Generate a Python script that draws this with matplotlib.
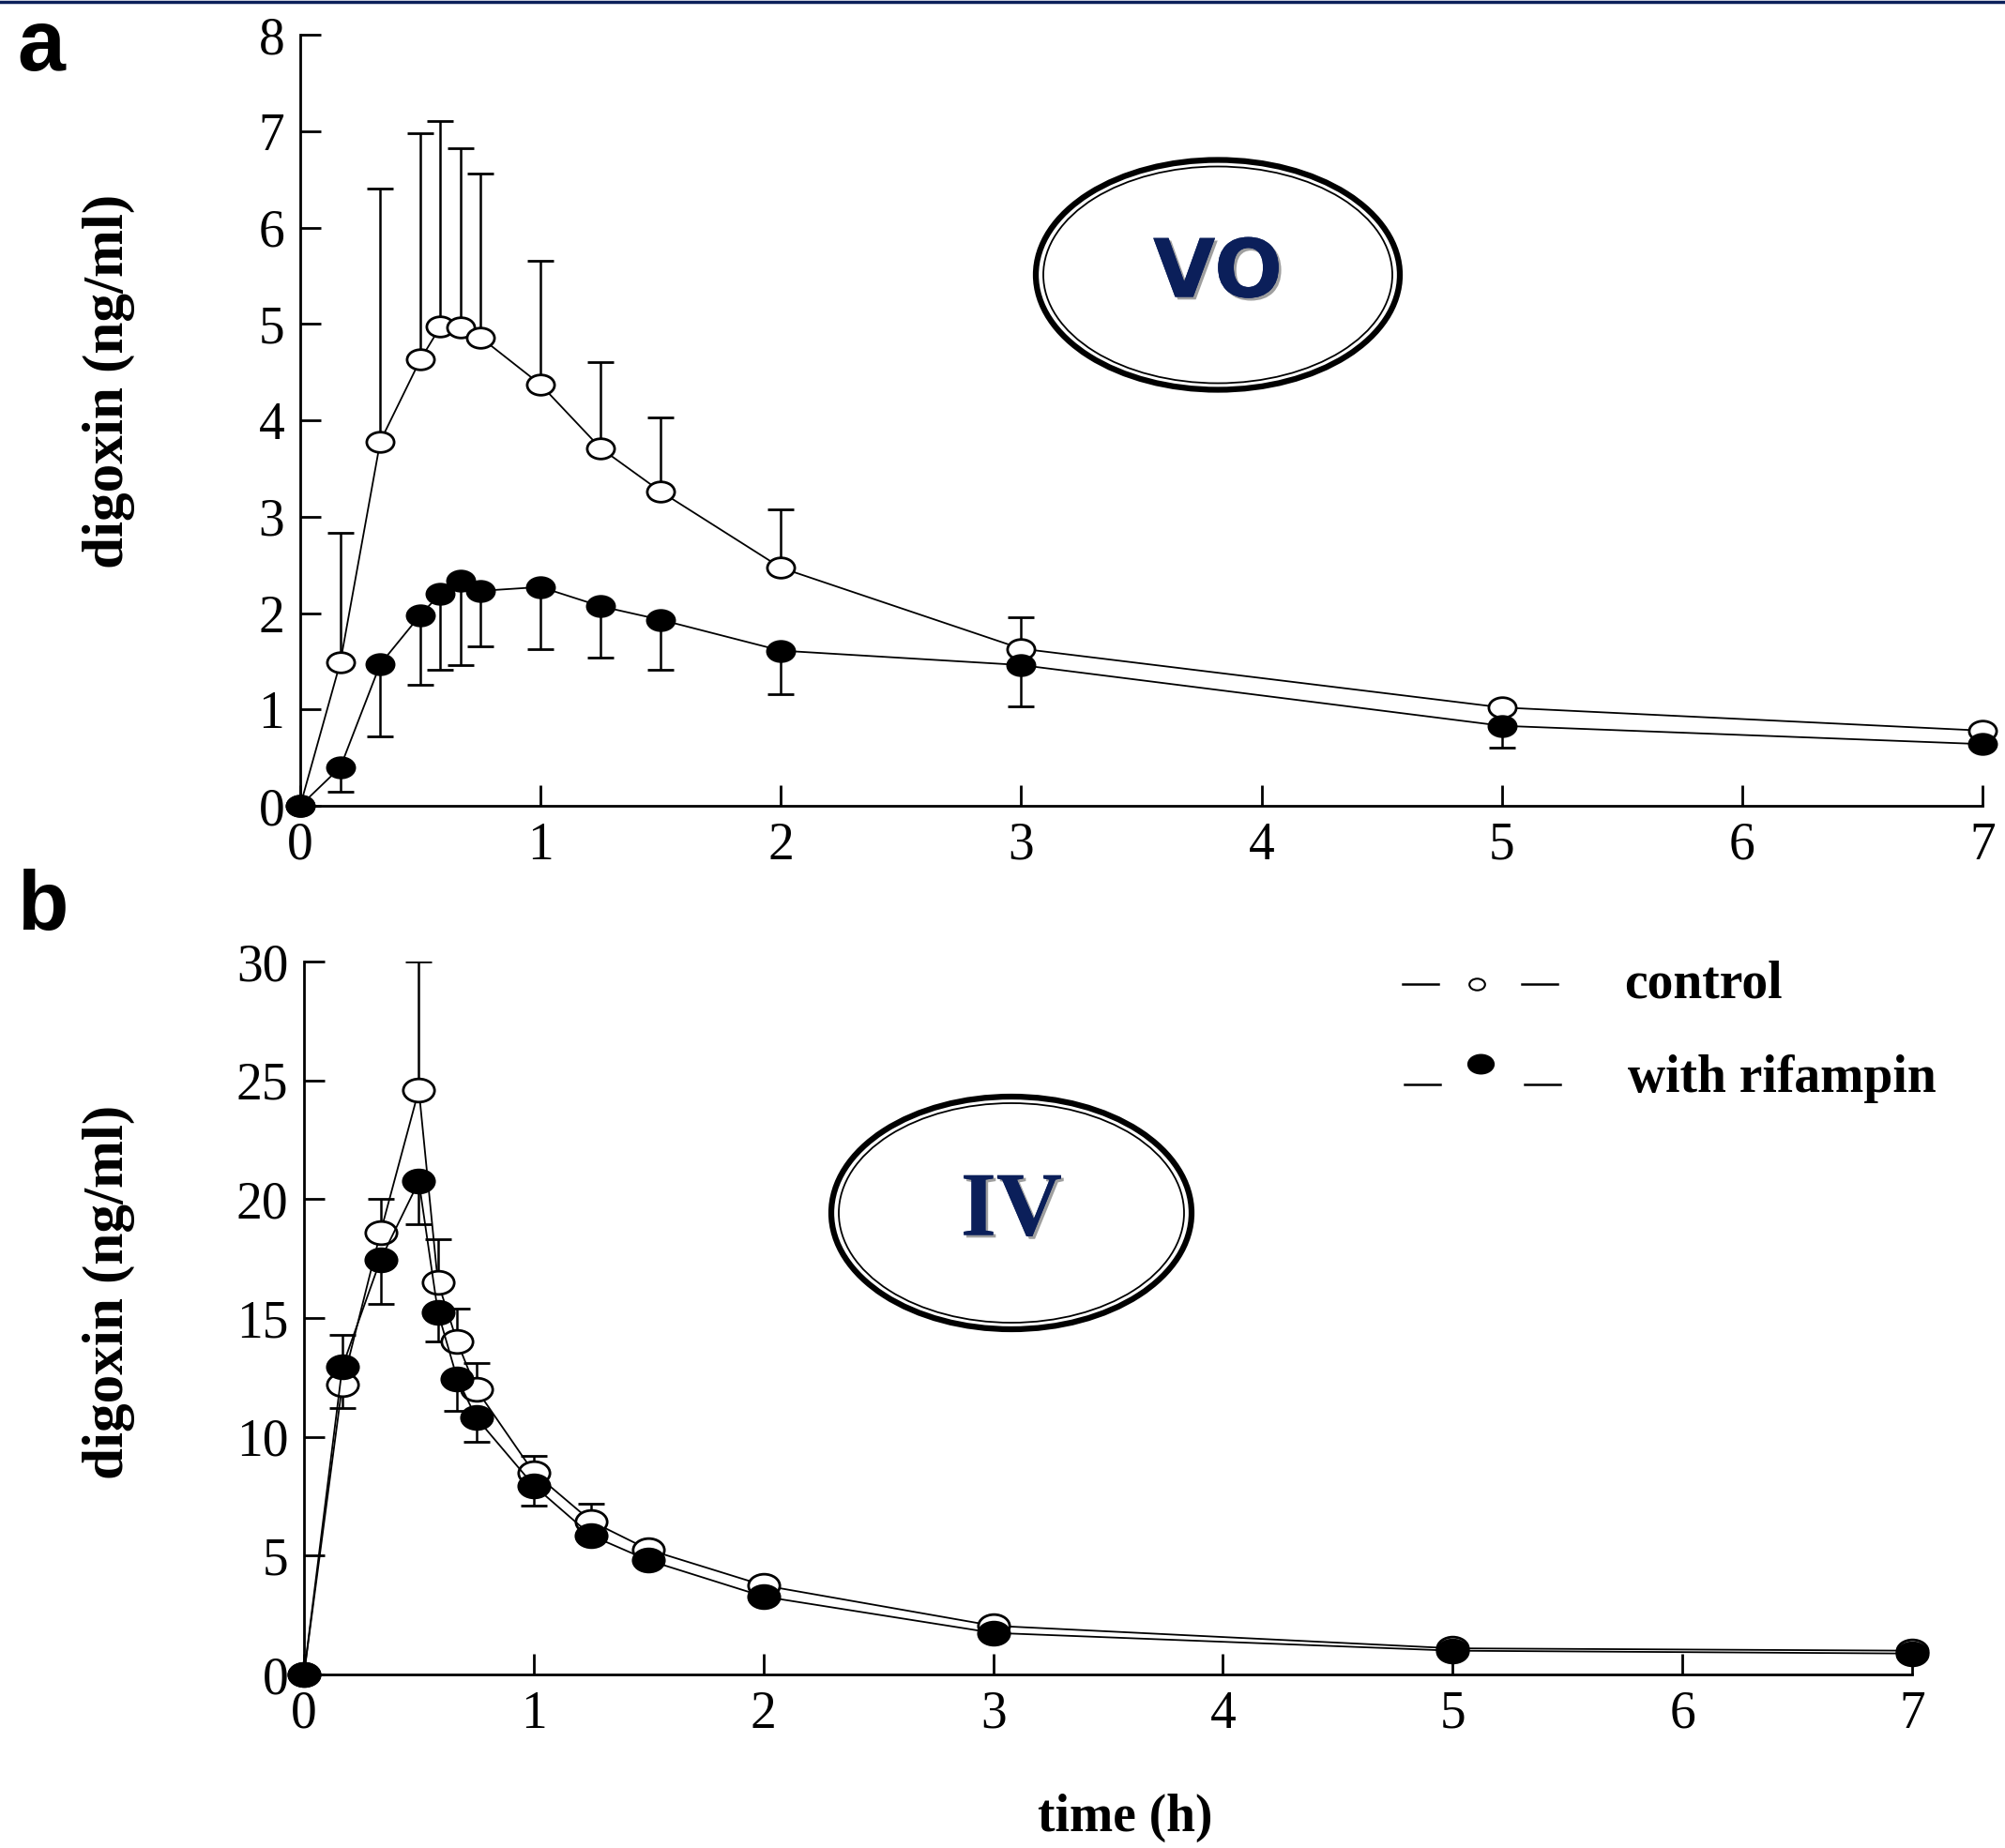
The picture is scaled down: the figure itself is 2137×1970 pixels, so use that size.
import numpy as np
import matplotlib
matplotlib.use("Agg")
from matplotlib import pyplot as plt
from matplotlib.patches import Ellipse
from matplotlib.lines import Line2D
from matplotlib.path import Path
from matplotlib import patheffects as pe

plt.rcParams['font.family'] = ['Liberation Serif', 'DejaVu Serif']

# sampling times (h)
t = [0, 0.167, 0.333, 0.5, 0.583, 0.667, 0.75, 1, 1.25, 1.5, 2, 3, 5, 7]

# panel a: oral (VO)
vo_control = [0, 1.49, 3.78, 4.63, 4.97, 4.96, 4.86, 4.37, 3.71, 3.26, 2.47, 1.63, 1.02, 0.78]
vo_control_sd = [0, 1.34, 2.62, 2.35, 2.13, 1.86, 1.70, 1.28, 0.89, 0.77, 0.61, 0.33, 0, 0]
vo_rifampin = [0, 0.40, 1.47, 1.98, 2.20, 2.34, 2.23, 2.27, 2.07, 1.93, 1.61, 1.46, 0.83, 0.64]
vo_rifampin_sd = [0, 0.25, 0.75, 0.72, 0.79, 0.88, 0.58, 0.64, 0.53, 0.52, 0.45, 0.43, 0.23, 0]

# panel b: intravenous (IV)
iv_control = [0, 12.2, 18.6, 24.6, 16.5, 14.0, 12.0, 8.5, 6.45, 5.25, 3.75, 2.05, 1.1, 1.0]
iv_control_sd = [0, 2.1, 1.4, 5.4, 1.8, 1.4, 1.1, 0.7, 0.75, 0, 0, 0, 0, 0]
iv_rifampin = [0, 12.95, 17.45, 20.75, 15.25, 12.45, 10.8, 7.95, 5.85, 4.8, 3.28, 1.75, 1.0, 0.88]
iv_rifampin_sd = [0, 1.75, 1.85, 1.8, 1.25, 1.35, 1.0, 0.85, 0, 0, 0, 0, 0, 0]

W, H = 2137, 1970
fig = plt.figure(figsize=(W / 100, H / 100), dpi=100)

# the source figure is stretched sideways, so are its circles
circ = Path.unit_circle()
oval = Path(circ.vertices * [1.35, 1.0], circ.codes)


def fx(px):
    return px / W


def fy(py):
    return 1 - py / H


def panel(ax, ctrl, ctrl_sd, rif, rif_sd, ymax, ms):
    tt = np.array(t)
    c, cs = np.array(ctrl), np.array(ctrl_sd)
    r, rs = np.array(rif), np.array(rif_sd)
    m = cs > 0
    ax.errorbar(tt[m], c[m], yerr=[np.zeros(m.sum()), cs[m]], fmt='none', ecolor='black',
                elinewidth=1.8, capsize=10, capthick=2, zorder=2)
    m = rs > 0
    ax.errorbar(tt[m], r[m], yerr=[rs[m], np.zeros(m.sum())], fmt='none', ecolor='black',
                elinewidth=1.8, capsize=10, capthick=2, zorder=2)
    ax.plot(tt, c, color='black', lw=1.3, marker=oval, ms=ms, mfc='white', mec='black',
            mew=2, clip_on=False, zorder=3)
    ax.plot(tt, r, color='black', lw=1.3, marker=oval, ms=ms, mfc='black', mec='black',
            mew=2, clip_on=False, zorder=4)
    ax.set_xlim(0, 7)
    ax.set_ylim(0, ymax)
    ax.set_xticks(range(0, 8))
    for s in ('top', 'right'):
        ax.spines[s].set_visible(False)
    for s in ('left', 'bottom'):
        ax.spines[s].set_linewidth(2)
    ax.tick_params(direction='in', length=16, width=2, labelsize=40, pad=12)


ax1 = fig.add_axes([fx(320), fy(859), fx(2113) - fx(320), fy(37) - fy(859)])
panel(ax1, vo_control, vo_control_sd, vo_rifampin, vo_rifampin_sd, 8, 21)
ax1.set_yticks(range(0, 9))

ax2 = fig.add_axes([fx(324), fy(1785), fx(2038) - fx(324), fy(1025) - fy(1785)])
panel(ax2, iv_control, iv_control_sd, iv_rifampin, iv_rifampin_sd, 30, 24)
ax2.set_yticks(range(0, 31, 5))

# axis titles
bold = dict(fontweight='bold', family='Liberation Serif')
fig.text(fx(116), fy(406), 'digoxin (ng/ml)', rotation=90, ha='center', va='center', fontsize=44, **bold)
fig.text(fx(116), fy(1377), 'digoxin (ng/ml)', rotation=90, ha='center', va='center', fontsize=44, **bold)
fig.text(fx(1199), fy(1938), 'time (h)', ha='center', va='center', fontsize=40, **bold)

# panel letters
fig.text(fx(18), fy(75), 'a', fontsize=66, fontweight='bold', family='Liberation Sans', va='baseline')
fig.text(fx(18), fy(991), 'b', fontsize=64, fontweight='bold', family='Liberation Sans', va='baseline')

# route labels in double-ring ovals
navy = '#0b1f5a'
shadow = [pe.withSimplePatchShadow(offset=(2, -2), shadow_rgbFace='#777777', alpha=0.7), pe.Normal()]
for (cx, cy, w, h, label, fam, size) in [(1298, 293, 388, 245, 'VO', 'DejaVu Sans', 62),
                                         (1078, 1293, 384, 248, 'IV', 'Liberation Serif', 70)]:
    fig.add_artist(Ellipse((fx(cx), fy(cy)), w / W, h / H, transform=fig.transFigure,
                           fill=False, ec='black', lw=4.5))
    fig.add_artist(Ellipse((fx(cx), fy(cy)), (w - 16) / W, (h - 14) / H, transform=fig.transFigure,
                           fill=False, ec='black', lw=1.3))
    fig.text(fx(cx), fy(cy), label, ha='center', va='center', fontsize=size, fontweight='bold',
             family=fam, color=navy, path_effects=shadow)

# legend drawn by hand like the original key
for x0, x1, y in [(1495, 1533, 1049), (1622, 1660, 1049), (1497, 1535, 1156), (1625, 1663, 1156)]:
    fig.add_artist(Line2D([fx(x0), fx(x1)], [fy(y), fy(y)], transform=fig.transFigure,
                          color='black', lw=1.8))
fig.add_artist(Line2D([fx(1574)], [fy(1049)], transform=fig.transFigure, marker=oval, ms=12,
                      mfc='white', mec='black', mew=1.5, ls='none'))
fig.add_artist(Line2D([fx(1578)], [fy(1134)], transform=fig.transFigure, marker=oval, ms=20,
                      mfc='black', mec='black', ls='none'))
fig.text(fx(1731), fy(1049), 'control', ha='left', va='center', fontsize=40, **bold)
fig.text(fx(1735), fy(1150), 'with rifampin', ha='left', va='center', fontsize=40, **bold)

# thin navy rule along the top edge of the slide
fig.add_artist(Line2D([0, 1], [fy(1.5), fy(1.5)], transform=fig.transFigure, color=navy, lw=2.5))

fig.savefig('out.png', dpi=100)
